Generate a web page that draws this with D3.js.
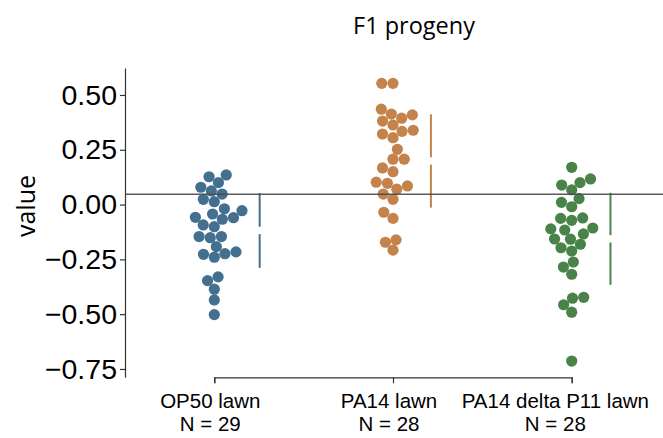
<!DOCTYPE html>
<html>
<head>
<meta charset="utf-8">
<script src="https://cdn.jsdelivr.net/npm/d3@7"></script>
<style>
  html, body { margin: 0; padding: 0; background: #fff; }
  svg { display: block; }
</style>
</head>
<body>
<svg id="chart" width="663" height="438"></svg>
<script>
// ---- data ----
const categories = ["OP50 lawn", "PA14 lawn", "PA14 delta P11 lawn"];
const sampleSizes = [29, 28, 28];
const op50Values = [0.135, 0.127, 0.100, 0.079, 0.062, 0.048, 0.024, 0.013, -0.019, -0.028,
  -0.043, -0.058, -0.067, -0.060, -0.093, -0.101, -0.151, -0.146, -0.146, -0.192,
  -0.227, -0.240, -0.224, -0.216, -0.330, -0.347, -0.386, -0.435, -0.502];
const pa14Values = [0.553, 0.553, 0.435, 0.413, 0.394, 0.409, 0.381, 0.363, 0.334, 0.339,
  0.322, 0.305, 0.252, 0.207, 0.207, 0.167, 0.150, 0.102, 0.097, 0.070,
  0.085, 0.048, 0.024, -0.035, -0.063, -0.172, -0.161, -0.208];
const pa14dP11Values = [0.170, 0.117, 0.100, 0.089, 0.067, 0.027, 0.010, -0.010, -0.063, -0.072,
  -0.061, -0.111, -0.116, -0.107, -0.134, -0.157, -0.158, -0.181, -0.197, -0.212,
  -0.262, -0.285, -0.318, -0.423, -0.427, -0.457, -0.491, -0.714];
const seriesValues = [op50Values, pa14Values, pa14dP11Values];
const yTickValues = [0.50, 0.25, 0.00, -0.25, -0.50, -0.75];
const referenceValue = 0.047;
const titleText = "F1 progeny";
const yLabel = "value";
const colors = ["#44708f", "#c3834a", "#498349"];

// ---- layout ----
const W = 663, H = 438;
const svg = d3.select("#chart");
svg.append("rect").attr("width", W).attr("height", H).attr("fill", "#fff");

const y = d3.scaleLinear().domain([-0.788, 0.623]).range([377.3, 68]);
const x = d3.scalePoint().domain(categories).range([214.3, 571.7]);

const R_LAYOUT = 5.35, R_DRAW = 5.6;

// seaborn-like swarm layout (pixel space)
function swarm(values, cx) {
  const pts = values.map(v => ({ v, y: y(v) })).sort((a, b) => a.v - b.v);
  const placed = [];
  pts.forEach((p, i) => {
    if (i === 0) { p.x = cx; placed.push(p); return; }
    const neighbors = [];
    for (let j = placed.length - 1; j >= 0; j--) {
      const q = placed[j];
      if (Math.abs(p.y - q.y) < 2 * R_LAYOUT) neighbors.push(q); else break;
    }
    const cands = [cx];
    let leftFirst = true;
    neighbors.forEach(q => {
      const dy = p.y - q.y;
      const dx = Math.sqrt(Math.max(4 * R_LAYOUT * R_LAYOUT - dy * dy, 0)) * 1.05;
      const cl = q.x - dx, cr = q.x + dx;
      if (leftFirst) cands.push(cl, cr); else cands.push(cr, cl);
      leftFirst = !leftFirst;
    });
    const order = cands.map((c, k) => ({ c, k })).sort((a, b) => (Math.abs(a.c - cx) - Math.abs(b.c - cx)) || (a.k - b.k));
    let chosen = order[0].c;
    for (const o of order) {
      const ok = neighbors.every(q => {
        const dx = q.x - o.c, dy = q.y - p.y;
        return dx * dx + dy * dy >= 4 * R_LAYOUT * R_LAYOUT - 1e-6;
      });
      if (ok) { chosen = o.c; break; }
    }
    p.x = chosen;
    placed.push(p);
  });
  return placed;
}

// axes
const yAxis = d3.axisLeft(y).tickValues(yTickValues).tickSize(5).tickSizeOuter(0).tickPadding(3)
  .tickFormat(d3.format(".2f"));
const gy = svg.append("g").attr("transform", "translate(125,0)").call(yAxis);
gy.select(".domain").attr("stroke", "#333").attr("stroke-width", 1.2);
gy.selectAll(".tick line").attr("stroke", "#333").attr("stroke-width", 1.2);
gy.selectAll(".tick text").attr("font-family", "'Liberation Sans', Arial, sans-serif")
  .attr("font-size", 28.5).attr("fill", "#000");

const xAxis = d3.axisBottom(x).tickSize(6).tickSizeOuter(6).tickFormat("");
const gx = svg.append("g").attr("transform", "translate(0,377.3)").call(xAxis);
gx.select(".domain").attr("stroke", "#333").attr("stroke-width", 1.2);
gx.selectAll(".tick line").attr("stroke", "#333").attr("stroke-width", 1.2);

const labels = svg.append("g").attr("font-family", "'Liberation Sans', Arial, sans-serif")
  .attr("font-size", 20.5).attr("fill", "#000").attr("text-anchor", "middle");
categories.forEach((c, i) => {
  const t = labels.append("text").attr("y", 408);
  const l1 = t.append("tspan").text(c);
  const l2 = t.append("tspan").attr("dy", 23).text("N = " + sampleSizes[i]);
  const w = l1.node().getComputedTextLength();
  const cx = Math.min(x(c) - 4, W - 14 - w / 2);
  l1.attr("x", cx);
  l2.attr("x", cx);
});

// swarms + mean ± sd gapped lines
const GAP = 3.7;
categories.forEach((c, i) => {
  const pts = swarm(seriesValues[i], x(c));
  svg.append("g").selectAll("circle").data(pts).join("circle")
    .attr("cx", d => d.x).attr("cy", d => d.y).attr("r", R_DRAW)
    .attr("fill", colors[i]);
  const m = d3.mean(seriesValues[i]);
  const sd = d3.deviation(seriesValues[i]);
  const lx = d3.max(pts, d => d.x) + 17.7;
  const g = svg.append("g").attr("stroke", colors[i]).attr("stroke-width", 2);
  g.append("line").attr("x1", lx).attr("x2", lx).attr("y1", y(m + sd)).attr("y2", y(m) - GAP);
  g.append("line").attr("x1", lx).attr("x2", lx).attr("y1", y(m) + GAP).attr("y2", y(m - sd));
});

// reference line
svg.append("line").attr("x1", 125).attr("x2", W)
  .attr("y1", y(referenceValue)).attr("y2", y(referenceValue))
  .attr("stroke", "#4a4a4a").attr("stroke-width", 1.6).attr("opacity", 0.9);

// title & y label
svg.append("text").attr("x", 353).attr("y", 34)
  .attr("font-family", "'Open Sans', 'Noto Sans', sans-serif").attr("font-size", 23.5)
  .attr("fill", "#000").text(titleText);
svg.append("text").attr("transform", "translate(35,206) rotate(-90)")
  .attr("text-anchor", "middle")
  .attr("font-family", "'Open Sans', 'Noto Sans', sans-serif").attr("font-size", 25)
  .attr("fill", "#000").text(yLabel);
</script>
</body>
</html>
